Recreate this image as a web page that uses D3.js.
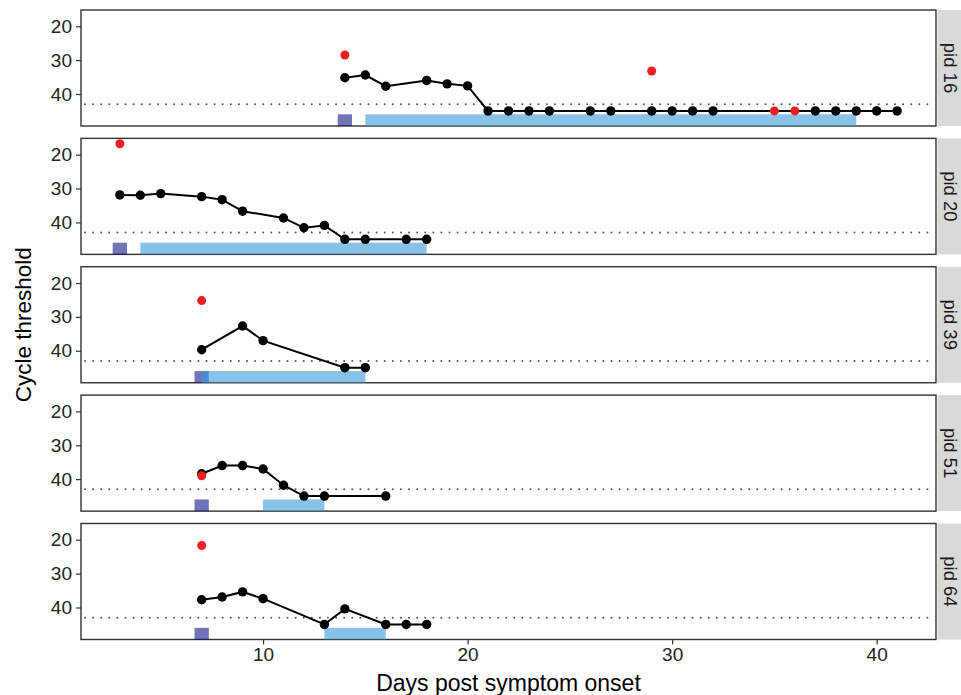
<!DOCTYPE html>
<html>
<head>
<meta charset="utf-8">
<script src="https://cdn.jsdelivr.net/npm/d3@7/dist/d3.min.js"></script>
<style>
  html, body { margin: 0; padding: 0; background: #fff; }
  svg { display: block; font-family: "Liberation Sans", Arial, Helvetica, sans-serif; }
</style>
</head>
<body>
<svg id="chart" width="961" height="695"></svg>
<script>
// ---------------- data ----------------
const pids = ["pid 16", "pid 20", "pid 39", "pid 51", "pid 64"];

// Ct series (black line + points), by participant
const days16 = [14, 15, 16, 18, 19, 20, 21, 22, 23, 24, 26, 27, 29, 30, 31, 32, 37, 38, 39, 40, 41];
const ct16   = [35.2, 34.4, 37.7, 36, 37, 37.6, 45, 45, 45, 45, 45, 45, 45, 45, 45, 45, 45, 45, 45, 45, 45];
const days20 = [3, 4, 5, 7, 8, 9, 11, 12, 13, 14, 15, 17, 18];
const ct20   = [31.9, 32, 31.5, 32.4, 33.3, 36.7, 38.7, 41.6, 40.9, 45, 45, 45, 45];
const days39 = [7, 9, 10, 14, 15];
const ct39   = [39.7, 32.7, 37, 45, 45];
const days51 = [7, 8, 9, 10, 11, 12, 13, 16];
const ct51   = [38.4, 36, 36, 37, 41.8, 45, 45, 45];
const days64 = [7, 8, 9, 10, 13, 14, 16, 17, 18];
const ct64   = [37.7, 36.9, 35.4, 37.4, 45, 40.4, 45, 45, 45];

// red points, by participant
const redDays16 = [14, 29, 35, 36];
const red16     = [28.5, 33.2, 45, 45];
const redDays20 = [3];
const red20     = [16.8];
const redDays39 = [7];
const red39     = [25.2];
const redDays51 = [7];
const red51     = [39.0];
const redDays64 = [7];
const red64     = [21.7];

// symptom-onset marker day (purple) and blue interval start/end
const markerDay = [14, 3, 7, 7, 7];
const barStart  = [15, 4, 7, 10, 13];
const barEnd    = [39, 18, 15, 13, 16];

const threshold = 43;
const xTicks = [10, 20, 30, 40];
const yTicks = [20, 30, 40];

const xDomain = [1.1, 42.9];
const yDomain = [15.2, 49.45];
const barTop = 46;

// ---------------- layout ----------------
const ctDays = [days16, days20, days39, days51, days64];
const ctVals = [ct16, ct20, ct39, ct51, ct64];
const redDs  = [redDays16, redDays20, redDays39, redDays51, redDays64];
const redVs  = [red16, red20, red39, red51, red64];

const svg = d3.select("#chart");
const left = 81, right = 936;
const x = d3.scaleLinear().domain(xDomain).range([left, right]);
const row = d3.scaleBand().domain(pids).range([10, 639.5]).paddingInner(0.0964).paddingOuter(0);
const bw = row.bandwidth();

pids.forEach((pid, i) => {
  const top = row(pid);
  const y = d3.scaleLinear().domain(yDomain).range([top, top + bw]);
  const g = svg.append("g");

  // strip
  g.append("rect")
    .attr("x", right + 1.5).attr("y", top)
    .attr("width", 40).attr("height", bw)
    .attr("fill", "#d9d9d9");
  g.append("text")
    .attr("transform", `translate(${right + 7.5},${top + bw / 2}) rotate(90)`)
    .attr("text-anchor", "middle")
    .attr("font-size", 18.5)
    .attr("fill", "#1a1a1a")
    .text(pid);

  // panel
  g.append("rect")
    .attr("x", left).attr("y", top)
    .attr("width", right - left).attr("height", bw)
    .attr("fill", "#fff")
    .attr("stroke", "#333").attr("stroke-width", 1.4);

  // y axis
  const yAxis = d3.axisLeft(y).tickValues(yTicks).tickSize(5).tickPadding(4);
  const ya = g.append("g").attr("transform", `translate(${left},0)`).call(yAxis);
  ya.select(".domain").remove();
  ya.selectAll(".tick line").attr("stroke", "#333").attr("stroke-width", 1.2);
  ya.selectAll(".tick text").attr("font-size", 19).attr("fill", "#222")
    .attr("font-family", "'Liberation Sans', Arial, sans-serif");

  // purple marker
  g.append("rect")
    .attr("x", x(markerDay[i] - 0.35))
    .attr("y", y(barTop))
    .attr("width", x(markerDay[i] + 0.35) - x(markerDay[i] - 0.35))
    .attr("height", y(yDomain[1]) - y(barTop))
    .attr("fill", "navy").attr("fill-opacity", 0.55);

  // blue bar
  g.append("rect")
    .attr("x", x(barStart[i]))
    .attr("y", y(barTop))
    .attr("width", x(barEnd[i]) - x(barStart[i]))
    .attr("height", y(yDomain[1]) - y(barTop))
    .attr("fill", "#3a9ad9").attr("fill-opacity", 0.6);

  // threshold dotted line
  g.append("line")
    .attr("x1", left + 4).attr("x2", right - 2)
    .attr("y1", y(threshold)).attr("y2", y(threshold))
    .attr("stroke", "#555").attr("stroke-width", 2)
    .attr("stroke-linecap", "round")
    .attr("stroke-dasharray", "0,8.1");

  // Ct line
  const pts = ctDays[i].map((d, k) => [d, ctVals[i][k]]);
  const line = d3.line().x(d => x(d[0])).y(d => y(d[1]));
  g.append("path")
    .attr("d", line(pts))
    .attr("fill", "none").attr("stroke", "#000").attr("stroke-width", 2);
  g.selectAll("circle.ct").data(pts).enter().append("circle")
    .attr("class", "ct")
    .attr("cx", d => x(d[0])).attr("cy", d => y(d[1]))
    .attr("r", 4.7).attr("fill", "#000");

  // red points
  const rpts = redDs[i].map((d, k) => [d, redVs[i][k]]);
  g.selectAll("circle.red").data(rpts).enter().append("circle")
    .attr("class", "red")
    .attr("cx", d => x(d[0])).attr("cy", d => y(d[1]))
    .attr("r", 4.5).attr("fill", "#f01e1e");

  // x axis on the bottom panel only
  if (i === pids.length - 1) {
    const xAxis = d3.axisBottom(x).tickValues(xTicks).tickSize(5).tickPadding(3);
    const xa = g.append("g").attr("transform", `translate(0,${top + bw})`).call(xAxis);
    xa.select(".domain").remove();
    xa.selectAll(".tick line").attr("stroke", "#333").attr("stroke-width", 1.2);
    xa.selectAll(".tick text").attr("font-size", 19).attr("fill", "#222")
      .attr("font-family", "'Liberation Sans', Arial, sans-serif");
  }
});

// axis titles
svg.append("text")
  .attr("x", (left + right) / 2).attr("y", 691)
  .attr("text-anchor", "middle")
  .attr("font-size", 23)
  .attr("fill", "#000")
  .text("Days post symptom onset");

svg.append("text")
  .attr("transform", `translate(31,${(10 + 639.5) / 2}) rotate(-90)`)
  .attr("text-anchor", "middle")
  .attr("font-size", 22.5)
  .attr("fill", "#000")
  .text("Cycle threshold");
</script>
</body>
</html>
